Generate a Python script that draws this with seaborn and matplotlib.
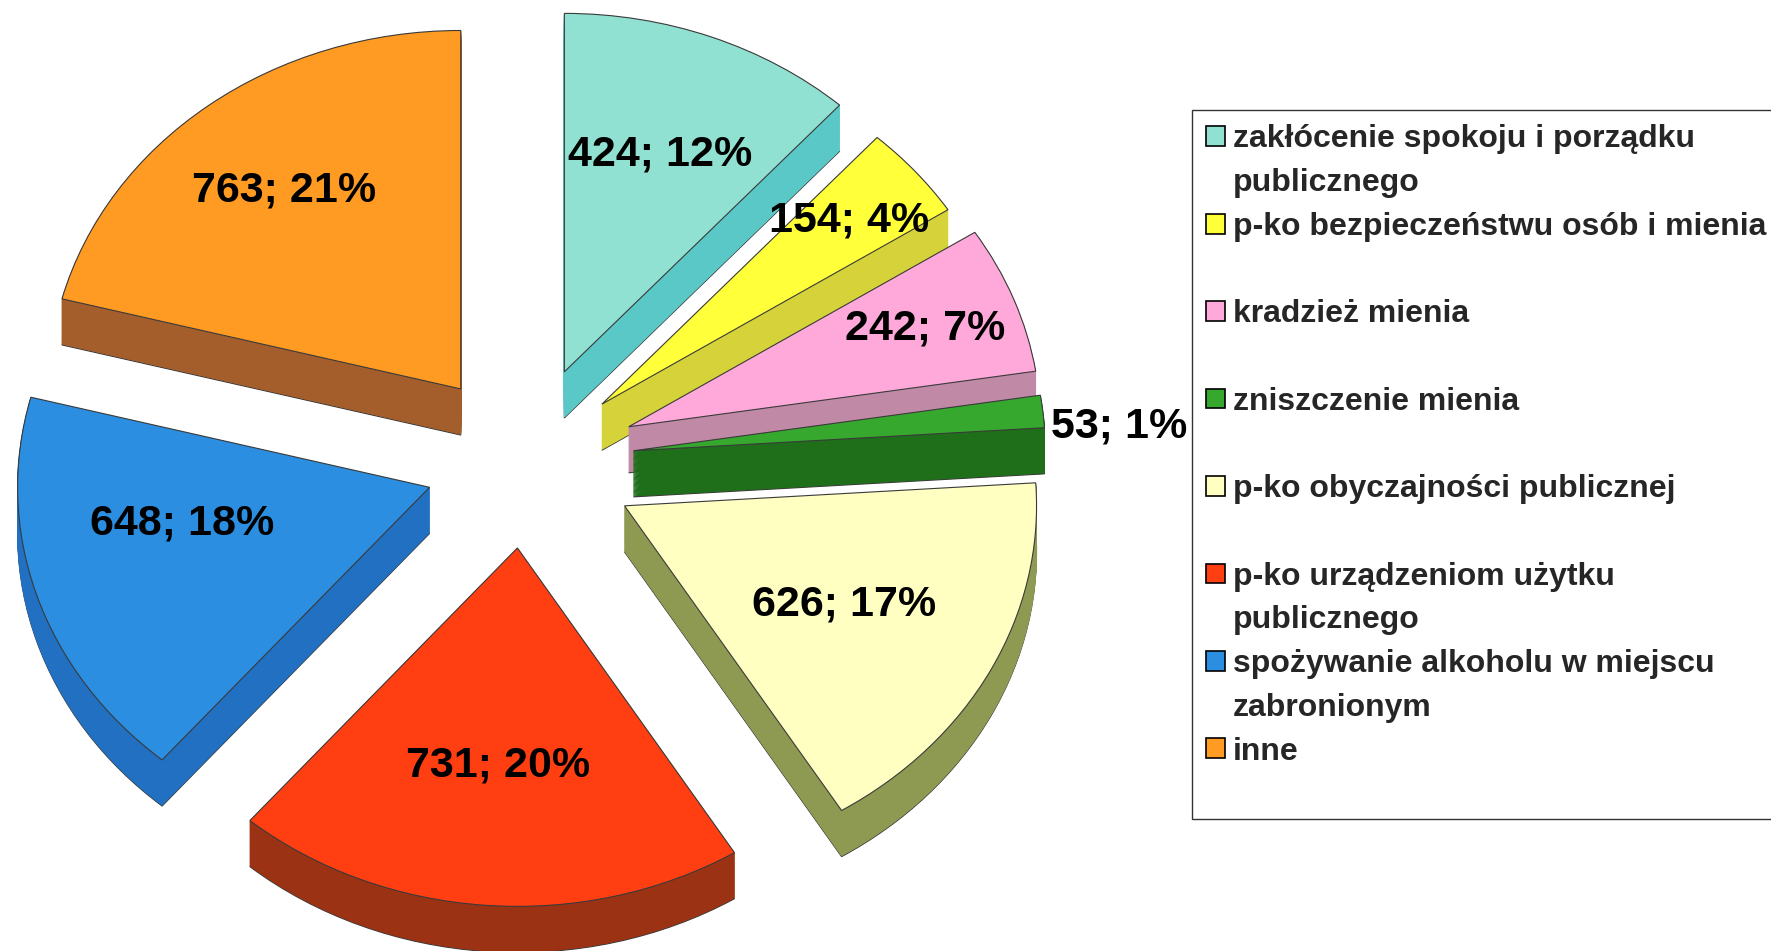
import numpy as np
import matplotlib
matplotlib.use("Agg")
import matplotlib.pyplot as plt
import matplotlib.patches as mpatches
from matplotlib import font_manager
import seaborn as sns

# data
categories = [
    "zakłócenie spokoju i porządku\npublicznego",
    "p-ko bezpieczeństwu osób i mienia",
    "kradzież mienia",
    "zniszczenie mienia",
    "p-ko obyczajności publicznej",
    "p-ko urządzeniom użytku\npublicznego",
    "spożywanie alkoholu w miejscu\nzabronionym",
    "inne",
]
counts = [424, 154, 242, 53, 626, 731, 648, 763]

top_colors = ["#91E1D2", "#FFFF3A", "#FFA9DA", "#36A82E",
              "#FFFFC2", "#FF3F12", "#2C8EE0", "#FF9A22"]
side_colors = ["#5BC8C8", "#D6D23A", "#C08AA6", "#1F6E1A",
               "#8E9A52", "#9C3214", "#2170C2", "#A45E2C"]

# layout (pixels of the final image)
W, H = 1771, 951
SQUASH = 0.87          # vertical tilt of the pie
R = 412
CX, CY = 525, 563
DEPTH = 53
explode = [110, 101, 111, 109, 112, 100, 100, 105]
label_dist = [0.65, 0.79, 0.77, 1.18, 0.60, 0.61, 0.61, 0.70]
label_turn = [0, 0, 0, -3, 0, 0, -8, 0]   # degrees

total = sum(counts)
pct = [round(100 * c / total) for c in counts]

sns.set_theme(style="white")
plt.rcParams['font.family'] = ['Liberation Sans', 'DejaVu Sans']

names = {f.name for f in font_manager.fontManager.ttflist}
if 'Liberation Sans Narrow' in names:
    label_font, label_size = 'Liberation Sans Narrow', 35
else:
    label_font, label_size = 'Liberation Sans', 31

fig = plt.figure(figsize=(W / 100, H / 100), dpi=100)
ax = fig.add_axes([0, 0, 1, 1])

pie_kw = dict(radius=R, explode=explode, startangle=90, counterclock=False,
              labeldistance=None)

# top faces
tops, _ = ax.pie(counts, center=(CX, CY), colors=top_colors,
                 wedgeprops=dict(linewidth=0.8, edgecolor='#3a3a3a'), **pie_kw)

# back-to-front drawing order
order = np.argsort([-w.center[1] for w in tops])
rank = {int(i): r for r, i in enumerate(order)}
for i, w in enumerate(tops):
    w.set_zorder(3 + 2 * rank[i])

# extruded sides, bottom layer first
for k, dz in enumerate(range(DEPTH, 0, -1)):
    sides, _ = ax.pie(counts, center=(CX, CY - dz), colors=side_colors,
                      wedgeprops=dict(linewidth=0.8, edgecolor='#3a3a3a'),
                      **pie_kw)
    for i, w in enumerate(sides):
        w.set_zorder(2 + 2 * rank[i])
        if k > 0:
            w.set_edgecolor(w.get_facecolor())
            w.set_linewidth(0.6)

# value labels
for i, w in enumerate(tops):
    ang = np.deg2rad((w.theta1 + w.theta2) / 2 + label_turn[i])
    x = w.center[0] + label_dist[i] * R * np.cos(ang)
    y = w.center[1] + label_dist[i] * R * np.sin(ang)
    ax.text(x, y, f"{counts[i]}; {pct[i]}%", ha='center', va='center',
            family=[label_font, 'DejaVu Sans'], fontweight='bold',
            fontsize=label_size, color='black', zorder=50)

ax.set_aspect('auto')
ax.set_xlim(0, W)
ax.set_ylim(0, H / SQUASH)
ax.axis('off')

# legend: two rows per category so the entries are evenly spaced
handles, labels = [], []
for i, cat in enumerate(categories):
    lines = (cat.split("\n") + [" "])[:2]
    for j, line in enumerate(lines):
        if j == 0:
            handles.append(mpatches.Patch(facecolor=top_colors[i],
                                          edgecolor='black', linewidth=1.2))
        else:
            handles.append(mpatches.Patch(facecolor='none', edgecolor='none'))
        labels.append(line)

leg = fig.legend(handles, labels, loc='upper left',
                 bbox_to_anchor=(1192 / W, 1 - 110 / H), borderaxespad=0,
                 frameon=True, fancybox=False, shadow=False,
                 prop=dict(family='Liberation Sans', weight='bold', size=23),
                 handlelength=0.58, handleheight=0.58, handletextpad=0.25,
                 labelspacing=0.43, borderpad=0.45)
leg.get_frame().set_edgecolor('black')
leg.get_frame().set_linewidth(1.0)
# the last (empty) row only adds a little space at the bottom
leg.get_texts()[-1].set_fontsize(9)

fig.savefig("out.png", dpi=100, facecolor='white')
